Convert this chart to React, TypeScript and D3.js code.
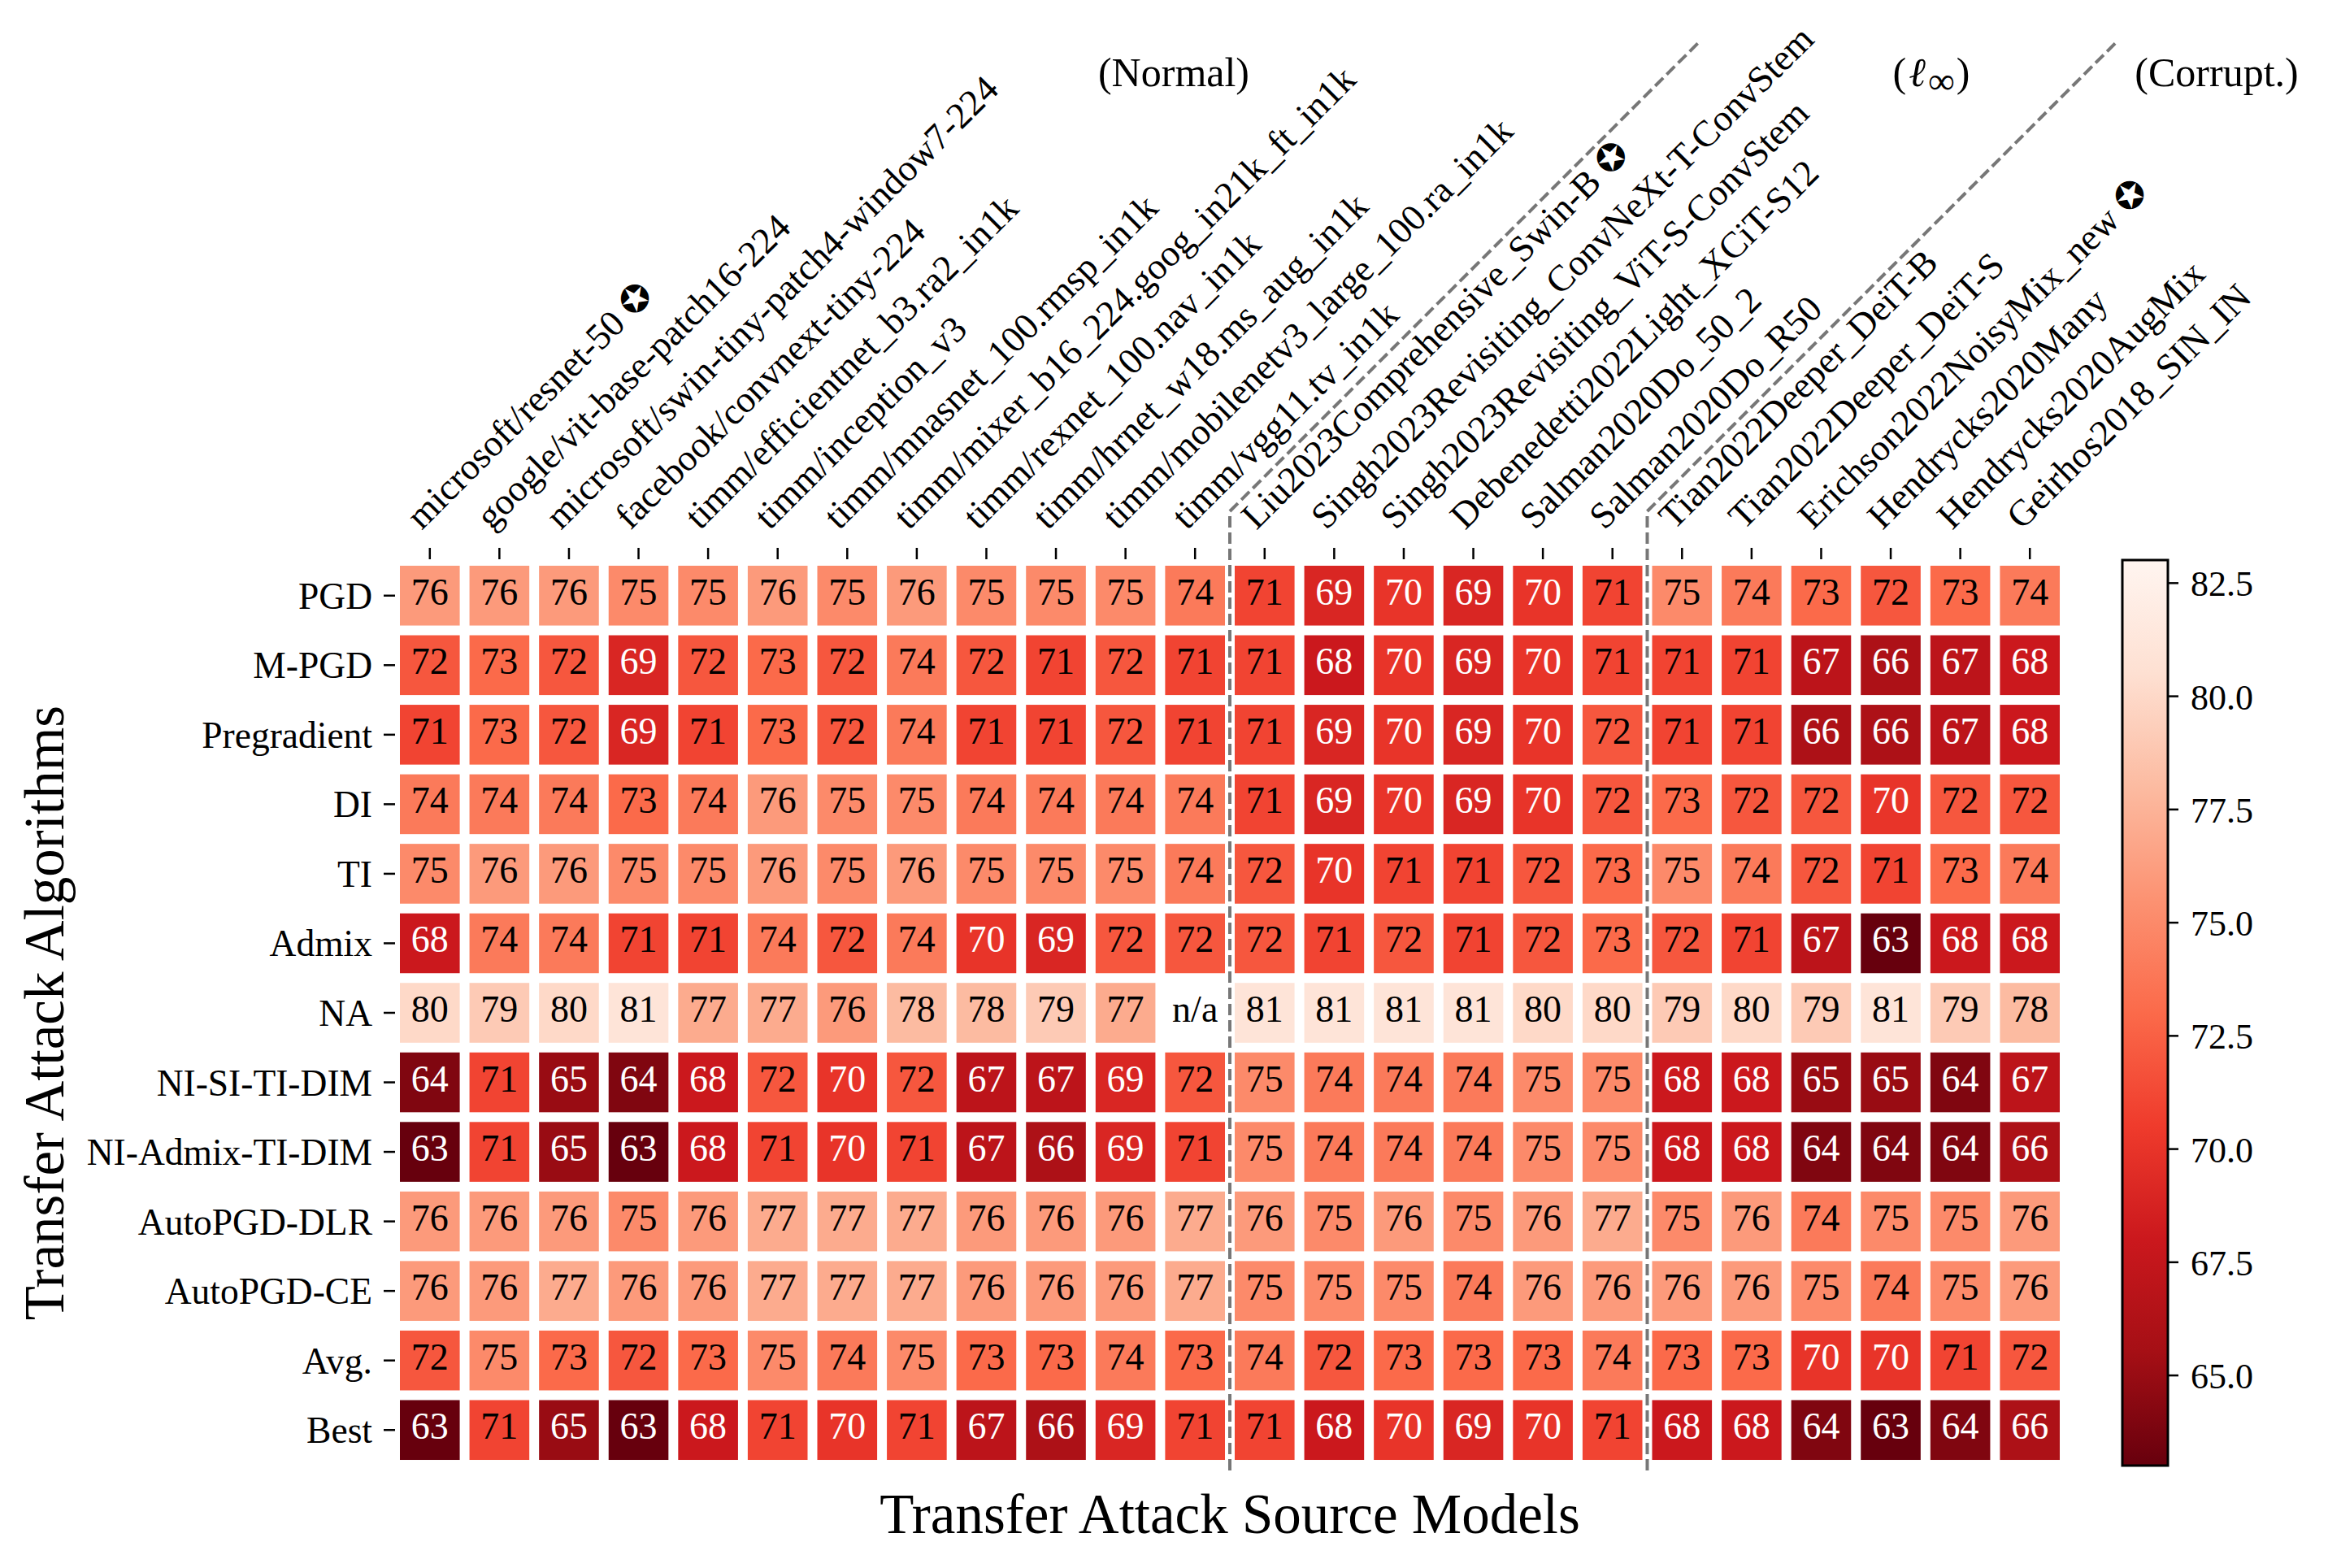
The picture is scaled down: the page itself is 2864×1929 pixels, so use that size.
import { useEffect, useRef } from 'react'
import * as d3 from 'd3'

const STAR = '\u272A'

const sourceModels = [
  `microsoft/resnet-50 ${STAR}`,
  'google/vit-base-patch16-224',
  'microsoft/swin-tiny-patch4-window7-224',
  'facebook/convnext-tiny-224',
  'timm/efficientnet_b3.ra2_in1k',
  'timm/inception_v3',
  'timm/mnasnet_100.rmsp_in1k',
  'timm/mixer_b16_224.goog_in21k_ft_in1k',
  'timm/rexnet_100.nav_in1k',
  'timm/hrnet_w18.ms_aug_in1k',
  'timm/mobilenetv3_large_100.ra_in1k',
  'timm/vgg11.tv_in1k',
  `Liu2023Comprehensive_Swin-B ${STAR}`,
  'Singh2023Revisiting_ConvNeXt-T-ConvStem',
  'Singh2023Revisiting_ViT-S-ConvStem',
  'Debenedetti2022Light_XCiT-S12',
  'Salman2020Do_50_2',
  'Salman2020Do_R50',
  'Tian2022Deeper_DeiT-B',
  'Tian2022Deeper_DeiT-S',
  `Erichson2022NoisyMix_new ${STAR}`,
  'Hendrycks2020Many',
  'Hendrycks2020AugMix',
  'Geirhos2018_SIN_IN',
]

const algorithms = [
  'PGD', 'M-PGD', 'Pregradient', 'DI', 'TI', 'Admix', 'NA',
  'NI-SI-TI-DIM', 'NI-Admix-TI-DIM', 'AutoPGD-DLR', 'AutoPGD-CE', 'Avg.', 'Best',
]

const pgd = [76, 76, 76, 75, 75, 76, 75, 76, 75, 75, 75, 74, 71, 69, 70, 69, 70, 71, 75, 74, 73, 72, 73, 74]
const mPgd = [72, 73, 72, 69, 72, 73, 72, 74, 72, 71, 72, 71, 71, 68, 70, 69, 70, 71, 71, 71, 67, 66, 67, 68]
const pregradient = [71, 73, 72, 69, 71, 73, 72, 74, 71, 71, 72, 71, 71, 69, 70, 69, 70, 72, 71, 71, 66, 66, 67, 68]
const di = [74, 74, 74, 73, 74, 76, 75, 75, 74, 74, 74, 74, 71, 69, 70, 69, 70, 72, 73, 72, 72, 70, 72, 72]
const ti = [75, 76, 76, 75, 75, 76, 75, 76, 75, 75, 75, 74, 72, 70, 71, 71, 72, 73, 75, 74, 72, 71, 73, 74]
const admix = [68, 74, 74, 71, 71, 74, 72, 74, 70, 69, 72, 72, 72, 71, 72, 71, 72, 73, 72, 71, 67, 63, 68, 68]
const na = [80, 79, 80, 81, 77, 77, 76, 78, 78, 79, 77, null, 81, 81, 81, 81, 80, 80, 79, 80, 79, 81, 79, 78]
const niSiTiDim = [64, 71, 65, 64, 68, 72, 70, 72, 67, 67, 69, 72, 75, 74, 74, 74, 75, 75, 68, 68, 65, 65, 64, 67]
const niAdmixTiDim = [63, 71, 65, 63, 68, 71, 70, 71, 67, 66, 69, 71, 75, 74, 74, 74, 75, 75, 68, 68, 64, 64, 64, 66]
const autoPgdDlr = [76, 76, 76, 75, 76, 77, 77, 77, 76, 76, 76, 77, 76, 75, 76, 75, 76, 77, 75, 76, 74, 75, 75, 76]
const autoPgdCe = [76, 76, 77, 76, 76, 77, 77, 77, 76, 76, 76, 77, 75, 75, 75, 74, 76, 76, 76, 76, 75, 74, 75, 76]
const avg = [72, 75, 73, 72, 73, 75, 74, 75, 73, 73, 74, 73, 74, 72, 73, 73, 73, 74, 73, 73, 70, 70, 71, 72]
const best = [63, 71, 65, 63, 68, 71, 70, 71, 67, 66, 69, 71, 71, 68, 70, 69, 70, 71, 68, 68, 64, 63, 64, 66]

const rows = [pgd, mPgd, pregradient, di, ti, admix, na, niSiTiDim, niAdmixTiDim, autoPgdDlr, autoPgdCe, avg, best]

const colorbarTicks = [65, 67.5, 70, 72.5, 75, 77.5, 80, 82.5]
const groupBreaks = [12, 18]

const WIDTH = 2864
const HEIGHT = 1929
const SERIF = '"Liberation Serif", "DejaVu Serif", serif'
const LABEL_FONT = '"Liberation Serif", "DejaVu Sans", serif'

export default function App() {
  const svgRef = useRef<SVGSVGElement>(null)

  useEffect(() => {
    if (!svgRef.current) return
    const svg = d3.select(svgRef.current)
    svg.selectAll('*').remove()

    const x = d3.scaleBand<number>()
      .domain(d3.range(sourceModels.length))
      .range([486, 2540])
      .paddingInner(0.14)
      .paddingOuter(0.07)
    const y = d3.scaleBand<number>()
      .domain(d3.range(algorithms.length))
      .range([690, 1802])
      .paddingInner(0.14)
      .paddingOuter(0.07)

    // matplotlib's Reds_r is piecewise linear over the nine brewer colours
    const reds = d3.piecewise(d3.interpolateRgb, [...d3.schemeReds[9]].reverse())
    const color = d3.scaleSequential(reds).domain([63, 83])

    // Draw cells
    const cells = rows.flatMap((row, r) => row.map((value, c) => ({ r, c, value })))
    const cell = svg.append('g').selectAll('g')
      .data(cells)
      .enter()
      .append('g')
      .attr('transform', d => `translate(${x(d.c)},${y(d.r)})`)

    cell.append('rect')
      .attr('width', x.bandwidth())
      .attr('height', y.bandwidth())
      .attr('fill', d => (d.value === null ? '#fff' : color(d.value)))

    cell.append('text')
      .attr('x', x.bandwidth() / 2)
      .attr('y', y.bandwidth() / 2 + 11)
      .attr('text-anchor', 'middle')
      .style('font-family', SERIF)
      .style('font-size', '46px')
      .style('fill', d => (d.value !== null && d.value <= 70 ? '#fff' : '#000'))
      .text(d => (d.value === null ? 'n/a' : d.value))

    // Y axis
    const yAxis = svg.append('g')
      .attr('transform', `translate(${x.range()[0]},0)`)
      .call(d3.axisLeft(y).tickSize(14).tickPadding(14).tickFormat(i => algorithms[i as number]))
    yAxis.select('.domain').remove()
    yAxis.selectAll('line').attr('stroke', '#000').attr('stroke-width', 2.5)
    yAxis.selectAll('text')
      .attr('dy', 16)
      .style('font-family', SERIF)
      .style('font-size', '45.5px')
      .style('fill', '#000')

    // X axis, labels on top at 45 degrees
    const xAxis = svg.append('g')
      .attr('transform', `translate(0,${y.range()[0] - 2})`)
      .call(d3.axisTop(x).tickSize(14).tickFormat(() => ''))
    xAxis.select('.domain').remove()
    xAxis.selectAll('line').attr('stroke', '#000').attr('stroke-width', 2.5)

    svg.append('g').selectAll('text')
      .data(sourceModels)
      .enter()
      .append('text')
      .attr('transform', (_, i) => `translate(${x(i)! + x.bandwidth() / 2 - 10},653) rotate(-45)`)
      .style('font-family', LABEL_FONT)
      .style('font-size', '45.6px')
      .style('fill', '#000')
      .text(d => d)

    // Group dividers: vertical through the grid, then up along the labels
    const dividerTop = 629
    const dividerRise = 579
    svg.append('g').selectAll('path')
      .data(groupBreaks)
      .enter()
      .append('path')
      .attr('d', b => {
        const bx = x.range()[0] + x.step() * b
        return d3.line()([
          [bx, y.range()[1] + 7],
          [bx, dividerTop],
          [bx + dividerRise, dividerTop - dividerRise],
        ])
      })
      .attr('fill', 'none')
      .attr('stroke', '#777')
      .attr('stroke-width', 4)
      .attr('stroke-dasharray', '14,6')

    // Group captions
    const caption = (cx: number) => svg.append('text')
      .attr('x', cx)
      .attr('y', 106)
      .attr('text-anchor', 'middle')
      .style('font-family', SERIF)
      .style('font-size', '50px')
      .style('fill', '#000')
    caption(1444).text('(Normal)')
    caption(2727).text('(Corrupt.)')
    const linf = caption(2376)
    linf.append('tspan').text('(')
    linf.append('tspan').style('font-style', 'italic').attr('dx', 3).text('\u2113')
    linf.append('tspan').attr('dy', 9).attr('dx', 3).style('font-size', '46px').text('\u221E')
    linf.append('tspan').attr('dy', -9).attr('dx', 2).text(')')

    // Axis titles
    svg.append('text')
      .attr('x', 1513)
      .attr('y', 1886)
      .attr('text-anchor', 'middle')
      .style('font-family', SERIF)
      .style('font-size', '69px')
      .text('Transfer Attack Source Models')
    svg.append('text')
      .attr('transform', 'translate(78,1246) rotate(-90)')
      .attr('text-anchor', 'middle')
      .style('font-family', SERIF)
      .style('font-size', '69px')
      .text('Transfer Attack Algorithms')

    // Colorbar
    const barLeft = 2611
    const barWidth = 56
    const cy = d3.scaleLinear().domain([63, 83]).range([1803, 689])
    const defs = svg.append('defs')
    const grad = defs.append('linearGradient')
      .attr('id', 'reds-bar')
      .attr('x1', 0).attr('x2', 0).attr('y1', 1).attr('y2', 0)
    grad.selectAll('stop')
      .data(d3.range(0, 1.0001, 0.125))
      .enter()
      .append('stop')
      .attr('offset', d => d)
      .attr('stop-color', d => reds(d))
    svg.append('rect')
      .attr('x', barLeft)
      .attr('y', cy(83))
      .attr('width', barWidth)
      .attr('height', cy(63) - cy(83))
      .attr('fill', 'url(#reds-bar)')
      .attr('stroke', '#000')
      .attr('stroke-width', 3)

    const barAxis = svg.append('g')
      .attr('transform', `translate(${barLeft + barWidth},0)`)
      .call(d3.axisRight(cy).tickValues(colorbarTicks).tickSize(13).tickPadding(15).tickFormat(d3.format('.1f') as any))
    barAxis.select('.domain').remove()
    barAxis.selectAll('line').attr('stroke', '#000').attr('stroke-width', 2.5)
    barAxis.selectAll('text')
      .attr('dy', 16)
      .style('font-family', SERIF)
      .style('font-size', '44px')
      .style('fill', '#000')
  }, [])

  return (
    <svg
      ref={svgRef}
      width={WIDTH}
      height={HEIGHT}
      viewBox={`0 0 ${WIDTH} ${HEIGHT}`}
      style={{ position: 'absolute', left: 0, top: 0, background: '#fff' }}
    />
  )
}
